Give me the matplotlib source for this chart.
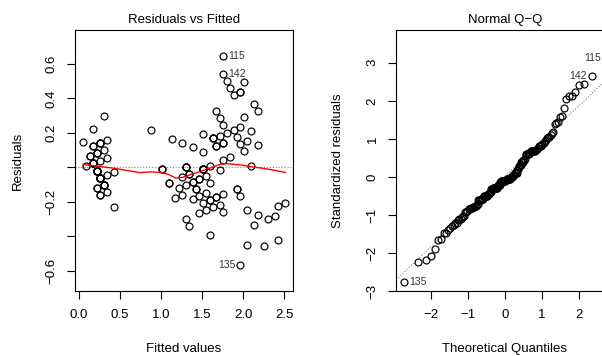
import numpy as np
import matplotlib
matplotlib.use("Agg")
from matplotlib import pyplot as plt
from statistics import NormalDist

plt.rcParams["font.family"] = ["Liberation Sans", "DejaVu Sans"]
plt.rcParams["axes.unicode_minus"] = True

# fitted values and residuals, one per observation (1..150)
fitted = [
    0.219, 0.219, 0.177, 0.261, 0.219, 0.344, 0.219, 0.261, 0.219, 0.261,
    0.261, 0.302, 0.219, 0.094, 0.136, 0.261, 0.177, 0.219, 0.344, 0.261,
    0.344, 0.261, 0.053, 0.344, 0.427, 0.302, 0.302, 0.261, 0.219, 0.302,
    0.302, 0.261, 0.261, 0.219, 0.261, 0.136, 0.177, 0.219, 0.177, 0.261,
    0.177, 0.177, 0.177, 0.302, 0.427, 0.219, 0.302, 0.219, 0.261, 0.219,
    1.591, 1.508, 1.674, 1.300, 1.549, 1.508, 1.591, 1.009, 1.549, 1.258,
    1.092, 1.383, 1.300, 1.591, 1.134, 1.466, 1.508, 1.341, 1.508, 1.258,
    1.632, 1.300, 1.674, 1.591, 1.425, 1.466, 1.632, 1.716, 1.508, 1.092,
    1.217, 1.175, 1.258, 1.757, 1.508, 1.508, 1.591, 1.466, 1.341, 1.300,
    1.466, 1.549, 1.300, 1.009, 1.383, 1.383, 1.383, 1.425, 0.884, 1.341,
    2.131, 1.757, 2.090, 1.965, 2.048, 2.381, 1.508, 2.256, 2.048, 2.173,
    1.757, 1.840, 1.924, 1.716, 1.757, 1.840, 1.924, 2.422, 2.506, 1.716,
    2.007, 1.674, 2.422, 1.674, 2.007, 2.131, 1.632, 1.674, 1.965, 2.048,
    2.173, 2.298, 1.965, 1.757, 1.965, 2.173, 1.965, 1.924, 1.632, 1.882,
    1.965, 1.757, 1.757, 2.090, 2.007, 1.799, 1.716, 1.799, 1.882, 1.757,
]
resid = [
    -0.019, -0.019, 0.023, -0.061, -0.019, 0.056, 0.081, -0.061, -0.019, -0.161,
    -0.061, -0.102, -0.119, 0.006, 0.064, 0.139, 0.223, 0.081, -0.044, 0.039,
    -0.144, 0.139, 0.147, 0.156, -0.227, -0.102, 0.098, -0.061, -0.019, -0.102,
    -0.102, 0.139, -0.161, -0.019, -0.061, 0.064, 0.023, -0.119, 0.023, -0.061,
    0.123, 0.123, 0.023, 0.298, -0.027, 0.081, -0.102, -0.019, -0.061, -0.019,
    -0.191, -0.008, -0.174, 0.000, -0.049, -0.208, 0.009, -0.009, -0.249, 0.142,
    -0.092, 0.117, -0.300, -0.191, 0.166, -0.066, -0.008, -0.341, -0.008, -0.158,
    0.168, 0.000, -0.174, -0.391, -0.125, -0.066, -0.232, -0.016, -0.008, -0.092,
    -0.117, -0.175, -0.058, -0.157, -0.008, 0.092, -0.091, -0.166, -0.041, 0.000,
    -0.266, -0.149, -0.100, -0.009, -0.083, -0.183, -0.083, -0.125, 0.216, -0.041,
    0.369, 0.143, 0.010, -0.165, 0.152, -0.281, 0.192, -0.456, -0.248, 0.327,
    0.243, 0.060, 0.177, 0.284, 0.643, 0.460, -0.124, -0.222, -0.206, -0.216,
    0.293, 0.326, -0.422, 0.126, 0.093, -0.331, 0.168, 0.126, 0.135, -0.448,
    -0.273, -0.298, 0.235, -0.257, -0.565, 0.127, 0.435, -0.124, 0.168, 0.218,
    0.435, 0.543, 0.143, 0.210, 0.493, 0.501, 0.184, 0.201, 0.418, 0.043,
]

# smoother line
smooth_x = [0.053, 0.30, 0.43, 0.74, 0.88, 1.01, 1.09, 1.18, 1.26, 1.34,
            1.47, 1.59, 1.72, 1.80, 1.97, 2.13, 2.30, 2.51]
smooth_y = [0.017, 0.003, -0.005, -0.030, -0.026, -0.030, -0.040, -0.062, -0.058,
            -0.045, -0.025, -0.005, 0.018, 0.022, 0.014, 0.002, -0.010, -0.029]

# observations flagged in the plots
flagged = [115, 142, 135]

fitted = np.array(fitted)
resid = np.array(resid)
n = len(resid)

# standardized residuals and normal quantiles for the Q-Q panel
lev = 1 / n + (fitted - fitted.mean()) ** 2 / np.sum((fitted - fitted.mean()) ** 2)
sigma = np.sqrt(np.sum(resid ** 2) / (n - 2))
std_resid = resid / (sigma * np.sqrt(1 - lev))
order = np.argsort(std_resid, kind="stable")
theo = np.empty(n)
theo[order] = [NormalDist().inv_cdf((i + 0.5) / n) for i in range(n)]
q_y = np.quantile(std_resid, [0.25, 0.75])
q_x = np.array([NormalDist().inv_cdf(0.25), NormalDist().inv_cdf(0.75)])
qq_slope = (q_y[1] - q_y[0]) / (q_x[1] - q_x[0])
qq_int = q_y[0] - qq_slope * q_x[0]

fig = plt.figure(figsize=(6.02, 3.56), dpi=100)
ax1 = fig.add_axes([0.1246, 0.1817, 0.3621, 0.734])
ax2 = fig.add_axes([0.6578, 0.1817, 0.3621, 0.734])

fs = 9.5
for ax in (ax1, ax2):
    ax.tick_params(direction="out", length=5.5, width=0.8, labelsize=fs, pad=7)
    for s in ax.spines.values():
        s.set_linewidth(0.8)

# Residuals vs Fitted
ax1.axhline(0, color="gray", lw=0.8, ls=":")
ax1.plot(fitted, resid, "o", mfc="none", mec="black", ms=5, mew=0.85)
ax1.plot(smooth_x, smooth_y, color="red", lw=1.0)
ax1.set_xlim(-0.045, 2.604)
ax1.set_ylim(-0.718, 0.796)
ax1.set_xticks([0.0, 0.5, 1.0, 1.5, 2.0, 2.5])
ax1.set_xticklabels(["0.0", "0.5", "1.0", "1.5", "2.0", "2.5"])
ax1.set_yticks([-0.6, -0.4, -0.2, 0.0, 0.2, 0.4, 0.6])
ax1.set_yticklabels(["\u22120.6", "", "\u22120.2", "", "0.2", "0.4", "0.6"],
                    rotation=90, va="center")
ax1.set_title("Residuals vs Fitted", fontsize=fs, pad=5)
ax1.set_xlabel("Fitted values", fontsize=fs)
ax1.set_ylabel("Residuals", fontsize=fs)
ax1.xaxis.set_label_coords(0.5, -0.196)
ax1.yaxis.set_label_coords(-0.234, 0.5)

lab_x = fitted[[i - 1 for i in flagged]]
mid = (lab_x.min() + lab_x.max()) / 2
for i in flagged:
    x, y = fitted[i - 1], resid[i - 1]
    right = x <= mid
    ax1.annotate(str(i), (x, y), xytext=(3.2 if right else -3.2, 0),
                 textcoords="offset points", ha="left" if right else "right",
                 va="center", fontsize=7.5, color="#333333")

# Normal Q-Q
ax2.axline((0, qq_int), slope=qq_slope, color="gray", lw=0.8, ls=":")
ax2.plot(theo, std_resid, "o", mfc="none", mec="black", ms=5, mew=0.85)
ax2.set_xlim(-2.93, 2.93)
ax2.set_ylim(-3.0, 3.86)
ax2.set_xticks([-2, -1, 0, 1, 2])
ax2.set_xticklabels(["\u22122", "\u22121", "0", "1", "2"])
ax2.set_yticks([-3, -2, -1, 0, 1, 2, 3])
ax2.set_yticklabels(["\u22123", "\u22122", "\u22121", "0", "1", "2", "3"],
                    rotation=90, va="center")
ax2.set_title("Normal Q\u2212Q", fontsize=fs, pad=5)
ax2.set_xlabel("Theoretical Quantiles", fontsize=fs)
ax2.set_ylabel("Standardized residuals", fontsize=fs)
ax2.xaxis.set_label_coords(0.5, -0.196)
ax2.yaxis.set_label_coords(-0.239, 0.5)

for i in flagged:
    x, y = theo[i - 1], std_resid[i - 1]
    right = x <= 0
    ax2.annotate(str(i), (x, y), xytext=(3.8 if right else -3.8, 0),
                 textcoords="offset points", ha="left" if right else "right",
                 va="center", fontsize=7.5, color="#333333", annotation_clip=False)

fig.savefig("out.png", dpi=100)
